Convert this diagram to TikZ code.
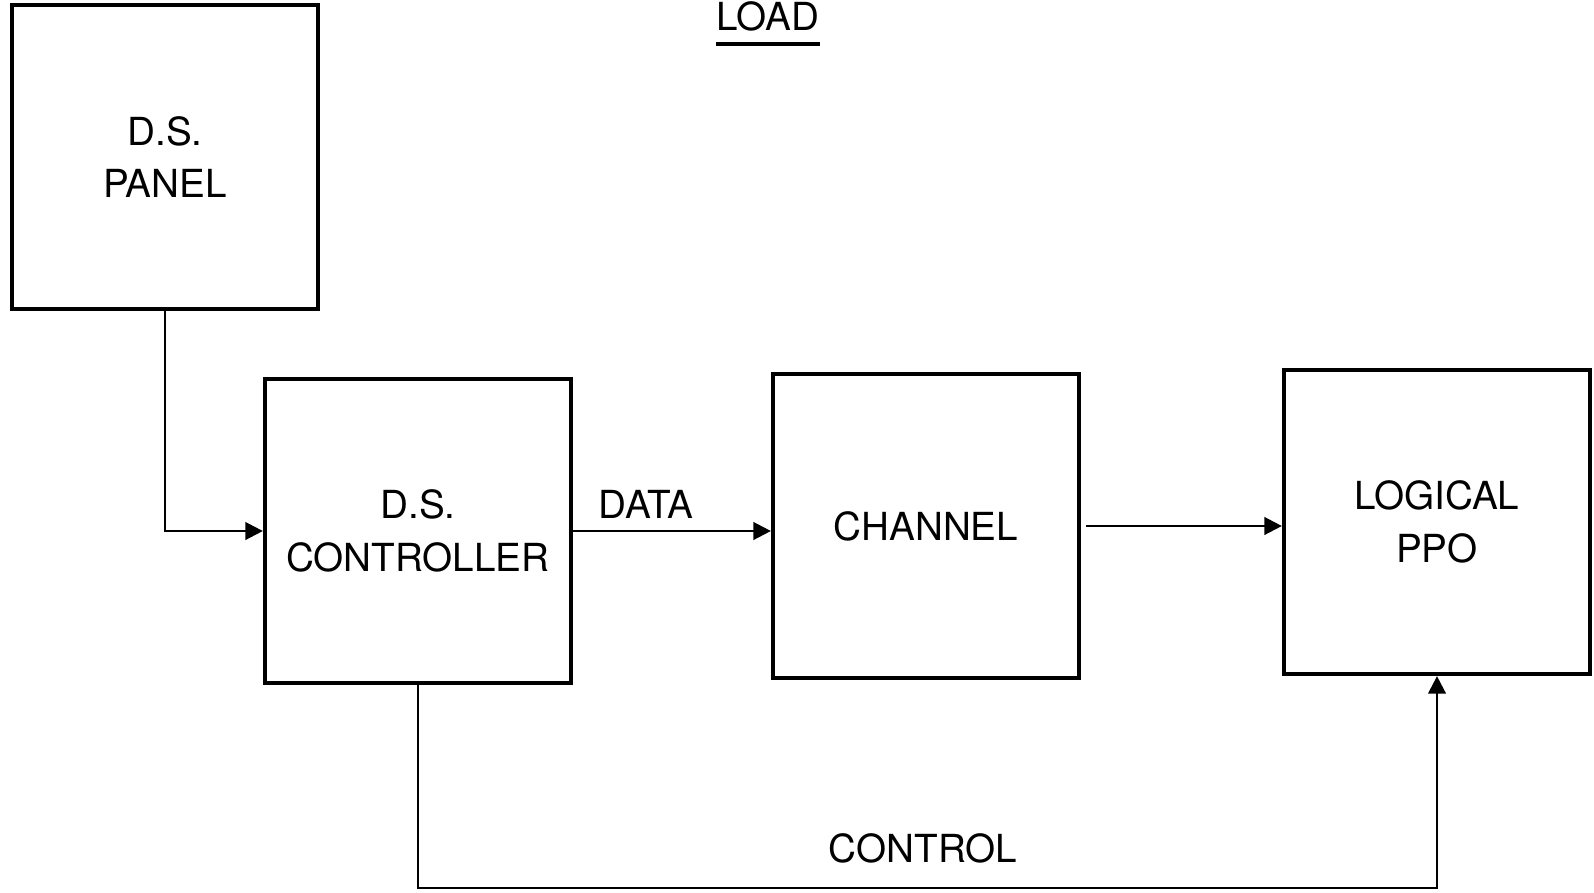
\documentclass[tikz,border=0pt]{standalone}
\usepackage{fontspec}
\setmainfont{TeX Gyre Heros}
\usetikzlibrary{positioning,arrows.meta}

\begin{document}
\begin{tikzpicture}[
		    blk/.style={draw, rectangle, line width=1.2pt, minimum width=3.06cm, minimum height=3.04cm, align=center, font=\fontsize{11}{15}\selectfont},
		    lbl/.style={font=\fontsize{11}{14}\selectfont},
		    arr/.style={line width=0.7pt, -{Triangle[length=5pt, width=5pt]}}
		]
		    \useasboundingbox (0,0) rectangle (15.94,-8.92);

		    \node[blk] (panel) at (1.65,-1.57) {D.S.\\PANEL};
		    \node[blk] (ctrl) at (4.18,-5.31) {D.S.\\CONTROLLER};
		    \node[blk] (chan) at (9.26,-5.26) {CHANNEL};
		    \node[blk] (ppo) at (14.37,-5.22) {LOGICAL\\PPO};

		    \node[lbl, anchor=base, inner sep=0pt] (title) at (7.68,-0.30) {LOAD};
		    \draw[line width=1.3pt] ([yshift=-0.14cm]title.base west) -- ([yshift=-0.14cm]title.base east);

		    \draw[arr] (panel.south) |- (ctrl.west);
		    \draw[arr] (ctrl.east) -- (ctrl.east -| chan.west) node[lbl, midway, above, xshift=-0.26cm] (data) {DATA};
		    \draw[arr] ([xshift=0.05cm]chan.east) -- (chan.east -| ppo.west);

		    \coordinate (cbot) at (9.23,-8.88);
		    \draw[arr] (ctrl.south) -- (ctrl.south |- cbot) -- (ppo.south |- cbot) -- (ppo.south);
		    \node[lbl, above=0.12cm of cbot] (control) {CONTROL};
		\end{tikzpicture}
\end{document}
